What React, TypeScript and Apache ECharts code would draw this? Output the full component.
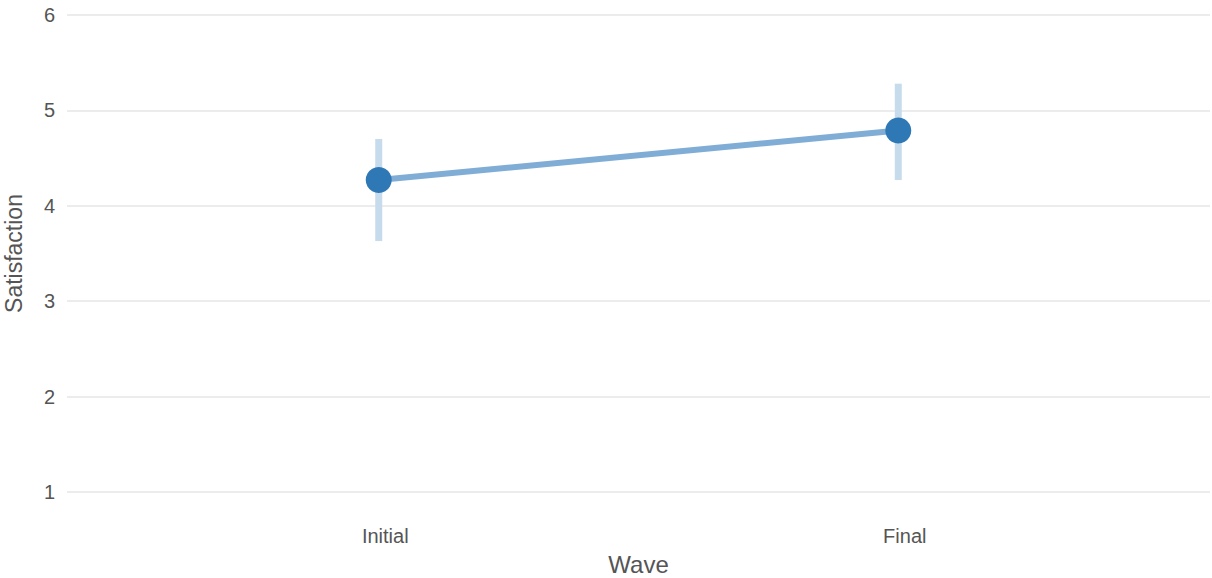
import React, { useEffect, useRef } from "react";
import * as echarts from "echarts";

// Survey waves and mean satisfaction with interval bounds
const waves = ["Initial", "Final"];
const waveX = [1, 2];
const means = [4.27, 4.79];
const lower = [3.63, 4.27];
const upper = [4.7, 5.28];
const yTicks = [1, 2, 3, 4, 5, 6];

const FONT = "'Liberation Sans', Helvetica, Arial, sans-serif";
const TEXT = "#555555";

export default function App() {
  const ref = useRef<HTMLDivElement>(null);

  useEffect(() => {
    if (!ref.current) return;
    const chart = echarts.init(ref.current, undefined, { renderer: "svg" });

    const errData = waveX.map((x, i) => [x, lower[i], upper[i]]);
    const lineData = waveX.map((x, i) => [x, means[i]]);

    chart.setOption({
      animation: false,
      backgroundColor: "#ffffff",
      textStyle: { fontFamily: FONT },
      grid: {
        left: 67,
        right: 2,
        top: 15,
        bottom: 86,
        containLabel: false,
        outerBoundsMode: "none",
      },
      xAxis: {
        type: "value",
        min: 0.4,
        max: 2.6,
        name: "Wave",
        nameLocation: "middle",
        nameGap: 60,
        nameTextStyle: { fontSize: 24, color: TEXT, fontFamily: FONT },
        axisLine: { show: false },
        axisTick: { show: false },
        splitLine: { show: false },
        axisLabel: {
          customValues: waveX,
          formatter: (v: number) => waves[waveX.indexOf(v)] ?? "",
          fontSize: 20,
          color: TEXT,
          fontFamily: FONT,
          margin: 34,
          padding: [0, 0, 0, 13],
        },
      },
      yAxis: {
        type: "value",
        min: yTicks[0],
        max: yTicks[yTicks.length - 1],
        interval: 1,
        name: "Satisfaction",
        nameLocation: "middle",
        nameGap: 42,
        nameRotate: 90,
        nameTextStyle: { fontSize: 23, color: TEXT, fontFamily: FONT },
        axisLine: { show: false },
        axisTick: { show: false },
        axisLabel: { fontSize: 20, color: TEXT, fontFamily: FONT, margin: 12 },
        splitLine: { lineStyle: { color: "#e6e6e6", width: 1.5 } },
      },
      series: [
        {
          type: "custom",
          z: 1,
          data: errData,
          encode: { x: 0, y: [1, 2] },
          renderItem: (params: any, api: any) => {
            const x = api.value(0);
            const lo = api.coord([x, api.value(1)]);
            const hi = api.coord([x, api.value(2)]);
            return {
              type: "line",
              shape: { x1: lo[0], y1: lo[1], x2: hi[0], y2: hi[1] },
              style: { stroke: "#c6dbec", lineWidth: 7 },
            };
          },
        },
        {
          type: "line",
          z: 2,
          data: lineData,
          symbol: "circle",
          symbolSize: 26,
          lineStyle: { color: "#80add5", width: 6 },
          itemStyle: { color: "#2e78b6" },
        },
      ],
    });

    return () => chart.dispose();
  }, []);

  return (
    <div
      ref={ref}
      style={{ position: "fixed", left: 0, top: 0, width: 1212, height: 578 }}
    />
  );
}
